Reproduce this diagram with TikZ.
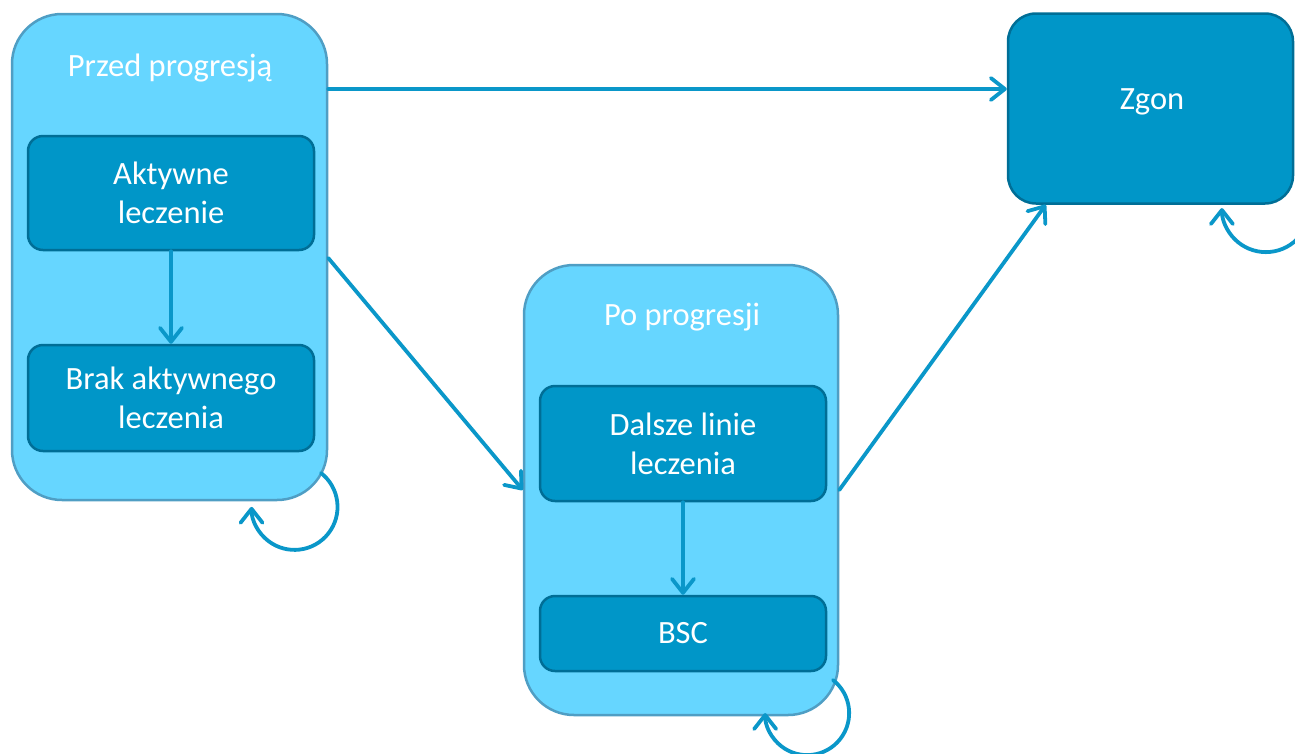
\documentclass[tikz,border=0pt]{standalone}
\usepackage{fontspec}
\setmainfont{Carlito}
\usetikzlibrary{arrows.meta}
\definecolor{lightfill}{HTML}{66D6FF}
\definecolor{lightborder}{HTML}{4F9EC4}
\definecolor{darkfill}{HTML}{0096C8}
\definecolor{darkborder}{HTML}{006E96}
\definecolor{arrowcol}{HTML}{0A97C9}
\begin{document}
\begin{tikzpicture}[x=1pt,y=-1pt,
  outerbox/.style={draw=lightborder,fill=lightfill,line width=2.5pt,rounded corners=50pt,inner sep=0pt},
  innerbox/.style={draw=darkborder,fill=darkfill,line width=2.5pt,rounded corners=15pt,inner sep=0pt,
    minimum width=286pt,text=white,align=center,font=\fontsize{32.5}{39}\selectfont},
  endbox/.style={draw=darkborder,fill=darkfill,line width=2.5pt,rounded corners=28pt,inner sep=0pt},
  label/.style={text=white,font=\fontsize{32.5}{39}\selectfont,inner sep=0pt},
  arr/.style={draw=arrowcol,line width=3.8pt,line cap=round,
    -{Straight Barb[length=14pt,width=22pt,line cap=round,line join=round]}}]
\useasboundingbox (0,0) rectangle (1295,753);
% boxes
\node[outerbox,minimum width=315pt,minimum height=486pt] (p) at (169.5,257) {};
\node[label] (pt) at (170,68) {Przed progresją};
\node[innerbox,minimum height=114pt] (a) at (171,193) {Aktywne\\leczenie};
\node[innerbox,minimum height=106pt] (b) at (171,398) {Brak aktywnego\\leczenia};
\node[outerbox,minimum width=314pt,minimum height=450pt] (q) at (681,490) {};
\node[label] (qt) at (682,317) {Po progresji};
\node[innerbox,minimum height=115pt] (d) at (683,443.5) {Dalsze linie\\leczenia};
\node[innerbox,minimum height=75pt] (s) at (683,633.5) {BSC};
\node[endbox,minimum width=285pt,minimum height=190pt] (z) at (1150.5,108.5) {};
\node[label] (zt) at (1152,102) {Zgon};
% connectors
\draw[arr] (a.south) -- (b.north);
\draw[arr] (d.south) -- (s.north);
\draw[arr] (p.east |- 0,89) -- (z.west |- 0,89);
\draw[arr] (p.east |- 0,258) -- (q.west);
\draw[arr] (q.east) -- ([xshift=39pt]z.south west);
% self loops
\coordinate (l1) at (321,473);
\coordinate (l2) at (833,680);
\coordinate (l3) at (1297,177);
\draw[arr] (l1) arc[start angle=-52,end angle=180,radius=43];
\draw[arr] (l2) arc[start angle=-52,end angle=180,radius=42];
\draw[arr] (l3) arc[start angle=-45,end angle=180,radius=44];
\end{tikzpicture}
\end{document}
